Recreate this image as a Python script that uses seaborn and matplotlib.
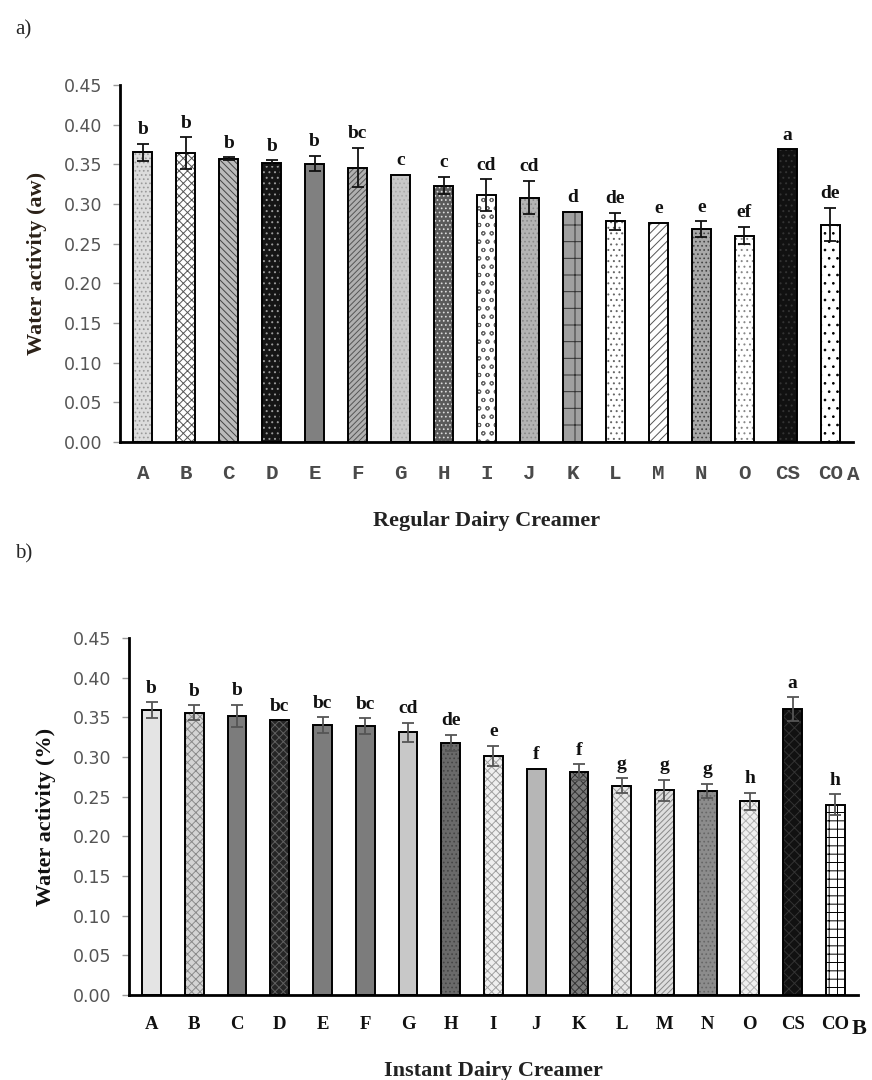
import numpy as np
import pandas as pd
import matplotlib
matplotlib.use("Agg")
import matplotlib.pyplot as plt
import seaborn as sns

# Samples
samples = ["A", "B", "C", "D", "E", "F", "G", "H", "I", "J", "K", "L", "M", "N", "O", "CS", "CO"]

# a) Regular dairy creamer - water activity (aw)
reg_aw = [0.365, 0.364, 0.357, 0.352, 0.351, 0.346, 0.337, 0.323, 0.311, 0.308,
          0.290, 0.278, 0.276, 0.268, 0.260, 0.369, 0.274]
reg_sd = [0.011, 0.020, 0.002, 0.003, 0.010, 0.025, 0.0, 0.011, 0.020, 0.021,
          0.0, 0.011, 0.0, 0.010, 0.011, 0.0, 0.021]
reg_grp = ["b", "b", "b", "b", "b", "bc", "c", "c", "cd", "cd",
           "d", "de", "e", "e", "ef", "a", "de"]

# b) Instant dairy creamer - water activity (%)
ins_aw = [0.359, 0.356, 0.352, 0.346, 0.340, 0.339, 0.331, 0.318, 0.301, 0.285,
          0.281, 0.264, 0.258, 0.257, 0.244, 0.360, 0.240]
ins_sd = [0.010, 0.009, 0.014, 0.0, 0.010, 0.010, 0.012, 0.010, 0.013, 0.0,
          0.010, 0.009, 0.013, 0.009, 0.011, 0.015, 0.013]
ins_grp = ["b", "b", "b", "bc", "bc", "bc", "cd", "de", "e", "f",
           "f", "g", "g", "g", "h", "a", "h"]

# bar looks: (face, hatch, hatch colour)
reg_style = [("#dcdcdc", "....", "#999999"), ("white", "xxxx", "#555555"),
             ("#bbbbbb", "\\\\\\\\\\", "#444444"), ("#151515", "...", "#9a9a9a"),
             ("#808080", "", "#808080"), ("#b0b0b0", "//////", "#555555"),
             ("#c8c8c8", "....", "#aaaaaa"), ("#5a5a5a", "....", "#dddddd"),
             ("white", "oo", "#666666"), ("#b4b4b4", "....", "#8a8a8a"),
             ("#a0a0a0", "-|", "#333333"), ("white", "...", "#666666"),
             ("white", "////", "#555555"), ("#a8a8a8", "....", "#444444"),
             ("white", "...", "#888888"), ("#111111", "...", "#333333"),
             ("white", "..", "#000000")]
ins_style = [("#e4e4e4", "", "#e4e4e4"), ("#d4d4d4", "xxxx", "#8a8a8a"),
             ("#7c7c7c", "", "#7c7c7c"), ("#252525", "xxxx", "#606060"),
             ("#7c7c7c", "", "#7c7c7c"), ("#7c7c7c", "", "#7c7c7c"),
             ("#c8c8c8", "", "#c8c8c8"), ("#6a6a6a", "....", "#454545"),
             ("#efefef", "xxxx", "#a0a0a0"), ("#b6b6b6", "", "#b6b6b6"),
             ("#7a7a7a", "xxxx", "#333333"), ("#e8e8e8", "xxxx", "#9a9a9a"),
             ("#dedede", "//////", "#888888"), ("#8c8c8c", "....", "#666666"),
             ("#efefef", "xxxx", "#b0b0b0"), ("#111111", "xxx", "#333333"),
             ("white", "++", "#000000")]

sns.set_style("white")
plt.rcParams["font.family"] = ["Liberation Serif", "DejaVu Serif"]
plt.rcParams["hatch.linewidth"] = 0.7

fig = plt.figure(figsize=(8.72, 10.8), dpi=100)
ax_a = fig.add_axes([0.1376, 0.5907, 0.8406, 0.3306])
ax_b = fig.add_axes([0.1479, 0.0787, 0.836, 0.3306])


def draw_panel(ax, vals, sds, grps, styles, ylab, xlab, tick_bold, err_col, tag):
    df = pd.DataFrame({"sample": samples, "aw": vals})
    faces = [s[0] for s in styles]
    sns.barplot(data=df, x="sample", y="aw", hue="sample", palette=faces,
                width=0.44, legend=False, ax=ax, errorbar=None, linewidth=0)
    for p, (fc, hat, hc) in zip(ax.patches, styles):
        p.set_facecolor(fc)
        p.set_hatch(hat)
        p.set_edgecolor(hc)
        p.set_linewidth(0)
    # outlines on top
    sns.barplot(data=df, x="sample", y="aw", color="black", fill=False,
                width=0.44, ax=ax, errorbar=None, linewidth=1.4)

    xs = np.arange(len(samples))
    sds = np.array(sds)
    vals = np.array(vals)
    has = sds > 0
    ax.errorbar(xs[has], vals[has], yerr=sds[has], fmt="none", ecolor=err_col,
                elinewidth=1.3, capsize=4, capthick=1.3, zorder=5)
    for x, v, s, g in zip(xs, vals, sds, grps):
        ax.annotate(g, (x, v + s), xytext=(0, 4), textcoords="offset points",
                    ha="center", va="bottom", fontsize=14, fontweight="bold",
                    color="#111111")

    ax.set_xlim(-0.53, len(samples) - 0.47)
    ax.set_ylim(0, 0.45)
    ax.set_yticks(np.arange(0, 0.451, 0.05))
    ax.set_yticklabels([f"{t:.2f}" for t in np.arange(0, 0.451, 0.05)],
                       family="DejaVu Sans", fontsize=12.5, color="#555555")
    ax.set_xticks(xs)
    if tick_bold:
        ax.set_xticklabels(samples, fontsize=13.5, fontweight="bold", color="#111111")
        ax.tick_params(axis="x", which="major", length=0, pad=15)
    else:
        ax.set_xticklabels(samples, fontsize=15, fontweight="bold", color="#4a4a4a",
                           family=["Liberation Mono", "DejaVu Sans Mono"])
        ax.tick_params(axis="x", which="major", length=0, pad=16)
    ax.set_xticks(np.arange(-0.5, len(samples), 1.0), minor=True)
    ax.tick_params(axis="x", which="minor", length=5, color="#aaaaaa", width=1)
    ax.tick_params(axis="y", length=5, color="#999999", width=1, pad=8, left=True)
    for side in ["top", "right"]:
        ax.spines[side].set_visible(False)
    ax.spines["left"].set_linewidth(2)
    ax.spines["bottom"].set_linewidth(2)
    ax.spines["left"].set_color("black")
    ax.spines["bottom"].set_color("black")
    ax.set_ylabel(ylab, fontsize=16, fontweight="bold", labelpad=12,
                  color="#2b2118" if tag == "A" else "#111111")
    ax.set_xlabel(xlab, fontsize=16, fontweight="bold", labelpad=20,
                  color="#222222")
    # suffix letter after the CO tick
    if tick_bold:
        ax.annotate(tag, (len(samples) - 1, 0), xytext=(11.5, -32),
                    textcoords="offset points", ha="left", va="bottom",
                    fontsize=16, fontweight="bold", color="#111111",
                    annotation_clip=False)
    else:
        ax.annotate(tag, (len(samples) - 1, 0), xytext=(12, -30),
                    textcoords="offset points", ha="left", va="bottom",
                    fontsize=15, fontweight="bold", color="#4a4a4a",
                    family=["Liberation Mono", "DejaVu Sans Mono"],
                    annotation_clip=False)


draw_panel(ax_a, reg_aw, reg_sd, reg_grp, reg_style, "Water activity (aw)",
           "Regular Dairy Creamer", False, "#111111", "A")
draw_panel(ax_b, ins_aw, ins_sd, ins_grp, ins_style, "Water activity (%)",
           "Instant Dairy Creamer", True, "#555555", "B")

fig.text(0.017, 0.972, "a)", fontsize=15, va="center", ha="left")
fig.text(0.017, 0.487, "b)", fontsize=15, va="center", ha="left")

fig.savefig("out.png", dpi=100)
